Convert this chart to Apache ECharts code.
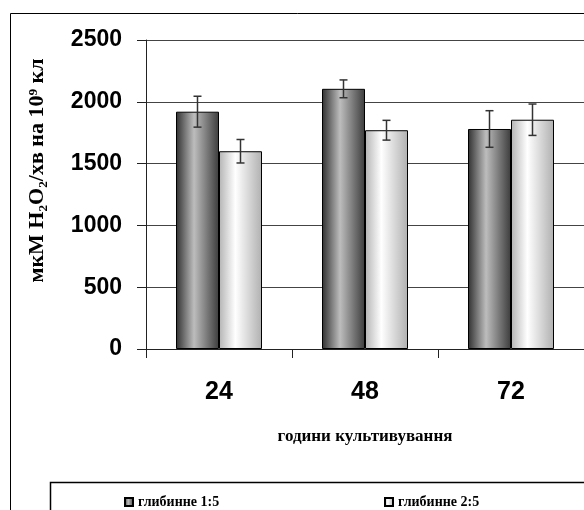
<!DOCTYPE html>
<html>
<head>
<meta charset="utf-8">
<script src="https://cdn.jsdelivr.net/npm/echarts@6/dist/echarts.min.js"></script>
<style>
  html, body { margin: 0; padding: 0; background: #fff; }
  #chart { width: 584px; height: 510px; }
</style>
</head>
<body>
<div id="chart"></div>
<script>
// дані
const hours = ['24', '48', '72'];
const seriesNames = ['глибинне 1:5', 'глибинне 2:5'];
const deep15 = [1920, 2105, 1780];
const deep15Err = [125, 72, 148];
const deep25 = [1600, 1770, 1855];
const deep25Err = [95, 80, 127];
const yTicks = [0, 500, 1000, 1500, 2000, 2500];

const barW = 43;

const darkFill = new echarts.graphic.LinearGradient(0, 0, 1, 0, [
  { offset: 0, color: '#303030' },
  { offset: 0.42, color: '#bdbdbd' },
  { offset: 1, color: '#3c3c3c' }
]);
const lightFill = new echarts.graphic.LinearGradient(0, 0, 1, 0, [
  { offset: 0, color: '#b4b4b4' },
  { offset: 0.38, color: '#ffffff' },
  { offset: 1, color: '#b0b0b0' }
]);

// похибки
function errData(vals, errs) {
  return vals.map((v, i) => [i, v - errs[i], v + errs[i]]);
}
function errRender(shift) {
  return function (params, api) {
    const lo = api.coord([api.value(0), api.value(1)]);
    const hi = api.coord([api.value(0), api.value(2)]);
    const x = lo[0] + shift;
    const cap = 4;
    const st = { stroke: '#333', lineWidth: 1.5 };
    return {
      type: 'group',
      children: [
        { type: 'line', shape: { x1: x, y1: lo[1], x2: x, y2: hi[1] }, style: st },
        { type: 'line', shape: { x1: x - cap, y1: lo[1], x2: x + cap, y2: lo[1] }, style: st },
        { type: 'line', shape: { x1: x - cap, y1: hi[1], x2: x + cap, y2: hi[1] }, style: st }
      ]
    };
  };
}

const chart = echarts.init(document.getElementById('chart'));
const serif = '"Liberation Serif", "Times New Roman", "DejaVu Serif", serif';
const sans = '"Liberation Sans", Arial, sans-serif';

const option = {
  backgroundColor: '#fff',
  animation: false,
  graphic: [
    { type: 'rect', left: 8, top: 11, shape: { width: 620, height: 560 }, style: { fill: 'none', stroke: '#000', lineWidth: 1 }, silent: true },
    { type: 'rect', left: 48, top: 480, shape: { width: 580, height: 80 }, style: { fill: 'none', stroke: '#000', lineWidth: 1.5 }, silent: true }
  ],
  legend: [
    {
      data: [seriesNames[0]], left: 119, top: 490, itemWidth: 8, itemHeight: 8, itemGap: 0,
      icon: 'rect',
      textStyle: { fontFamily: serif, fontWeight: 'bold', fontSize: 14, color: '#000' }
    },
    {
      data: [seriesNames[1]], left: 379, top: 490, itemWidth: 8, itemHeight: 8, itemGap: 0,
      icon: 'rect',
      textStyle: { fontFamily: serif, fontWeight: 'bold', fontSize: 14, color: '#000' }
    }
  ],
  grid: { left: 146, top: 40, right: -3, bottom: 161, containLabel: false },
  xAxis: {
    type: 'category',
    data: hours,
    name: 'години культивування',
    nameLocation: 'middle',
    nameGap: 79,
    nameTextStyle: { fontFamily: serif, fontWeight: 'bold', fontSize: 17, color: '#000' },
    axisLine: { lineStyle: { color: '#222', width: 1 } },
    axisTick: { show: true, length: 9, lineStyle: { color: '#222' } },
    axisLabel: { fontFamily: sans, fontWeight: 'bold', fontSize: 25, color: '#000', margin: 31 }
  },
  yAxis: {
    type: 'value',
    min: yTicks[0],
    max: yTicks[yTicks.length - 1],
    interval: 500,
    name: 'мкМ H₂O₂/хв на 10⁹ кл',
    nameLocation: 'middle',
    nameRotate: 90,
    nameGap: 98,
    nameTextStyle: { fontFamily: serif, fontWeight: 'bold', fontSize: 22, color: '#000', padding: [0, 0, 0, 48] },
    axisLine: { show: true, lineStyle: { color: '#222', width: 1 } },
    axisTick: { show: true, length: 9, lineStyle: { color: '#222' } },
    axisLabel: {
      fontFamily: sans, fontWeight: 'bold', fontSize: 23, color: '#000', margin: 24,
      formatter: v => String(v)
    },
    splitLine: { show: true, lineStyle: { color: '#444', width: 1 } }
  },
  series: [
    {
      name: seriesNames[0], type: 'bar', data: deep15, barWidth: barW, barGap: '0%',
      itemStyle: { color: darkFill, borderColor: '#000', borderWidth: 1 }
    },
    {
      name: seriesNames[1], type: 'bar', data: deep25, barWidth: barW, barGap: '0%',
      itemStyle: { color: lightFill, borderColor: '#000', borderWidth: 1 }
    },
    {
      type: 'custom', data: errData(deep15, deep15Err), renderItem: errRender(-barW / 2), z: 10,
      encode: { x: 0, y: [1, 2] }
    },
    {
      type: 'custom', data: errData(deep25, deep25Err), renderItem: errRender(barW / 2), z: 10,
      encode: { x: 0, y: [1, 2] }
    }
  ]
};
chart.setOption(option);
</script>
</body>
</html>
